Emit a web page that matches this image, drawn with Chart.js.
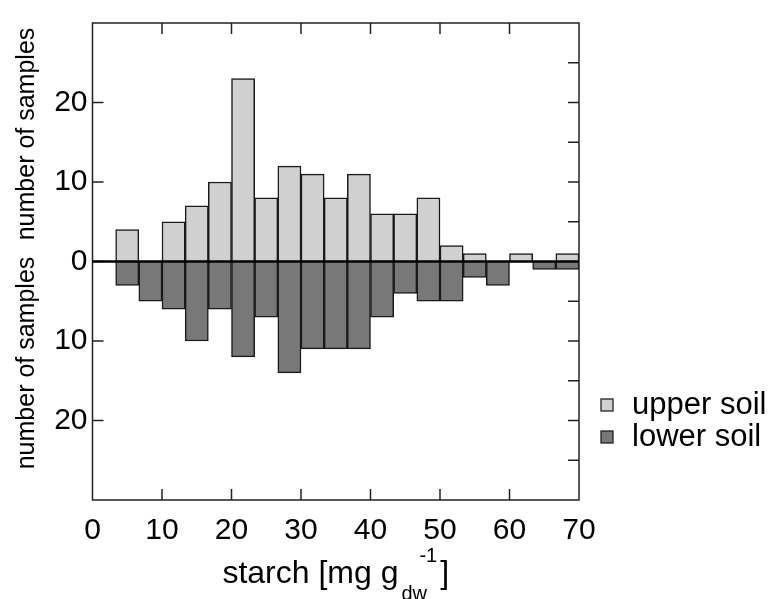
<!DOCTYPE html>
<html>
<head>
<meta charset="utf-8">
<script src="https://cdn.jsdelivr.net/npm/chart.js@4.4.1/dist/chart.umd.min.js"></script>
<style>
  html, body { margin: 0; padding: 0; background: #fff; }
  canvas { display: block; }
</style>
</head>
<body>
<canvas id="starch_hist" width="773" height="599"></canvas>
<script>
// bin centres, bins are 10/3 mg wide from 3.33 to 70
const binCenters = [5, 8.333, 11.667, 15, 18.333, 21.667, 25, 28.333, 31.667, 35,
  38.333, 41.667, 45, 48.333, 51.667, 55, 58.333, 61.667, 65, 68.333];
const upperSoil = [4, 0, 5, 7, 10, 23, 8, 12, 11, 8, 11, 6, 6, 8, 2, 1, 0, 1, 0, 1];
const lowerSoil = [3, 5, 6, 10, 6, 12, 7, 14, 11, 11, 11, 7, 4, 5, 5, 2, 3, 0, 1, 1];
const seriesLabels = ["upper soil", "lower soil"];
const xTickValues = [0, 10, 20, 30, 40, 50, 60, 70];
const yTickValues = [-20, -10, 0, 10, 20];
const yRightTicks = [-25, -20, -15, -10, -5, 5, 10, 15, 20, 25];

const FONT = "'Liberation Sans', Arial, sans-serif";

const framePlugin = {
  id: "frame",
  afterDraw(chart) {
    const ctx = chart.ctx;
    const a = chart.chartArea;
    const x = chart.scales.x;
    const y = chart.scales.y;
    const tick = 11;
    ctx.save();

    // frame
    ctx.strokeStyle = "#222";
    ctx.lineWidth = 1.5;
    ctx.strokeRect(a.left, a.top, a.right - a.left, a.bottom - a.top);

    // inward ticks
    ctx.beginPath();
    xTickValues.slice(1, -1).forEach(function (v) {
      const px = x.getPixelForValue(v);
      ctx.moveTo(px, a.top);
      ctx.lineTo(px, a.top + tick);
      ctx.moveTo(px, a.bottom);
      ctx.lineTo(px, a.bottom - tick);
    });
    yTickValues.forEach(function (v) {
      const py = y.getPixelForValue(v);
      ctx.moveTo(a.left, py);
      ctx.lineTo(a.left + tick, py);
    });
    yRightTicks.forEach(function (v) {
      const py = y.getPixelForValue(v);
      ctx.moveTo(a.right, py);
      ctx.lineTo(a.right - tick, py);
    });
    ctx.stroke();

    // zero line
    const y0 = y.getPixelForValue(0);
    ctx.strokeStyle = "#000";
    ctx.lineWidth = 2.5;
    ctx.beginPath();
    ctx.moveTo(a.left, y0);
    ctx.lineTo(a.right, y0);
    ctx.stroke();

    // y titles
    ctx.fillStyle = "#000";
    ctx.font = "25px " + FONT;
    ctx.textAlign = "center";
    ctx.textBaseline = "alphabetic";
    [134, 363].forEach(function (cy) {
      ctx.save();
      ctx.translate(34, cy);
      ctx.rotate(-Math.PI / 2);
      ctx.fillText("number of samples", 0, 0);
      ctx.restore();
    });

    // x title with sub/superscript
    const big = "32px " + FONT;
    const small = "20px " + FONT;
    ctx.textAlign = "left";
    ctx.font = big;
    const w1 = ctx.measureText("starch [mg g").width;
    const wClose = ctx.measureText("]").width;
    ctx.font = small;
    const wSub = ctx.measureText("dw").width;
    const wSup = ctx.measureText("-1").width;
    const supOff = wSub * 0.7;
    const total = w1 + 3 + Math.max(wSub, supOff + wSup) + 3 + wClose;
    const x0 = (a.left + a.right) / 2 - total / 2;
    const base = 583;
    ctx.font = big;
    ctx.fillText("starch [mg g", x0, base);
    ctx.font = small;
    const subX = x0 + w1 + 3;
    ctx.fillText("dw", subX, base + 17);
    ctx.fillText("-1", subX + supOff, base - 21);
    ctx.font = big;
    ctx.fillText("]", subX + Math.max(wSub, supOff + wSup) + 3, base);

    // legend
    ctx.font = "31px " + FONT;
    chart.data.datasets.forEach(function (ds, i) {
      const ly = 414 + i * 32;
      ctx.fillStyle = ds.backgroundColor;
      ctx.fillRect(601, ly - 15, 12, 12);
      ctx.strokeStyle = "#222";
      ctx.lineWidth = 1.3;
      ctx.strokeRect(601, ly - 15, 12, 12);
      ctx.fillStyle = "#000";
      ctx.fillText(ds.label, 632, ly);
    });

    ctx.restore();
  },
};

function toPoints(values, sign) {
  return values.map(function (v, i) {
    return { x: binCenters[i], y: sign * v };
  });
}

const ctx = document.getElementById("starch_hist");
new Chart(ctx, {
  type: "bar",
  data: {
    datasets: [
      {
        label: seriesLabels[0],
        data: toPoints(upperSoil, 1),
        backgroundColor: "#d0d0d0",
        borderColor: "#1a1a1a",
        borderWidth: 1.5,
      },
      {
        label: seriesLabels[1],
        data: toPoints(lowerSoil, -1),
        backgroundColor: "#787878",
        borderColor: "#1a1a1a",
        borderWidth: 1.5,
      },
    ],
  },
  options: {
    responsive: false,
    animation: false,
    layout: {
      padding: { left: 0, top: 15, right: 194, bottom: 0 },
    },
    datasets: {
      bar: {
        grouped: false,
        barPercentage: 1,
        categoryPercentage: 1,
      },
    },
    plugins: {
      legend: { display: false },
      tooltip: { enabled: false },
    },
    scales: {
      x: {
        type: "linear",
        min: 0,
        max: 70,
        offset: false,
        grid: { display: false, offset: false, drawTicks: false },
        border: { display: false },
        ticks: {
          stepSize: 10,
          padding: 13,
          color: "#000",
          font: { family: FONT, size: 30 },
          maxRotation: 0,
          autoSkip: false,
        },
        afterFit: function (scale) {
          scale.height = 99;
        },
      },
      y: {
        min: -30,
        max: 30,
        grid: { display: false, drawTicks: false },
        border: { display: false },
        ticks: {
          stepSize: 10,
          padding: 5,
          color: "#000",
          font: { family: FONT, size: 30 },
          callback: function (value) {
            return Math.abs(value) === 30 ? "" : Math.abs(value);
          },
        },
        afterFit: function (scale) {
          scale.width = 92.5;
        },
      },
    },
  },
  plugins: [framePlugin],
});
</script>
</body>
</html>
